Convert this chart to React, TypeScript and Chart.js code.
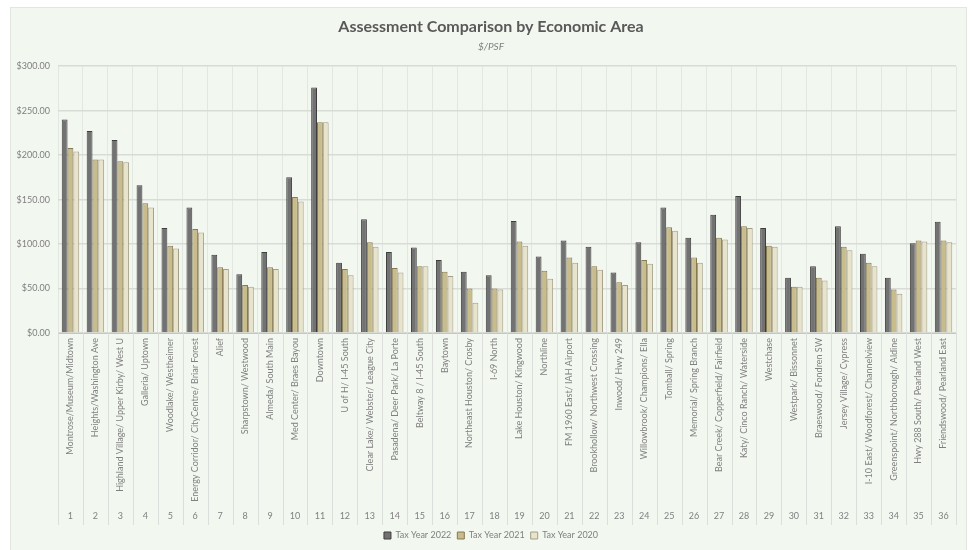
import React, { useEffect, useRef } from "react";
import { Chart, registerables } from "chart.js";

Chart.register(...registerables);

const categories = [
  "Montrose/Museum/Midtown",
  "Heights/Washington Ave",
  "Highland Village/ Upper Kirby/ West U",
  "Galleria/ Uptown",
  "Woodlake/ Westheimer",
  "Energy Corridor/ CityCentre/ Briar Forest",
  "Alief",
  "Sharpstown/ Westwood",
  "Almeda/ South Main",
  "Med Center/ Braes Bayou",
  "Downtown",
  "U of H/ I-45 South",
  "Clear Lake/ Webster/ League City",
  "Pasadena/ Deer Park/ La Porte",
  "Beltway 8 / I-45 South",
  "Baytown",
  "Northeast Houston/ Crosby",
  "I-69 North",
  "Lake Houston/ Kingwood",
  "Northline",
  "FM 1960 East/ IAH Airport",
  "Brookhollow/ Northwest Crossing",
  "Inwood/ Hwy 249",
  "Willowbrook/ Champions/ Ella",
  "Tomball/ Spring",
  "Memorial/ Spring Branch",
  "Bear Creek/ Copperfield/ Fairfield",
  "Katy/ Cinco Ranch/ Waterside",
  "Westchase",
  "Westpark/ Bissonnet",
  "Braeswood/ Fondren SW",
  "Jersey Village/ Cypress",
  "I-10 East/ Woodforest/ Channelview",
  "Greenspoint/ Northborough/ Aldine",
  "Hwy 288 South/ Pearland West",
  "Friendswood/ Pearland East",
];

const areaNumbers = [
  "1", "2", "3", "4", "5", "6", "7", "8", "9", "10", "11", "12",
  "13", "14", "15", "16", "17", "18", "19", "20", "21", "22", "23", "24",
  "25", "26", "27", "28", "29", "30", "31", "32", "33", "34", "35", "36",
];

const tax2022 = [240, 227, 217, 166, 118, 141, 88, 66, 91, 175, 276, 79, 128, 91, 96, 82, 69, 65, 126, 86, 104, 97, 68, 102, 141, 107, 133, 154, 118, 62, 75, 120, 89, 62, 101, 125];
const tax2021 = [208, 195, 193, 146, 98, 117, 74, 54, 74, 153, 237, 72, 102, 73, 75, 69, 50, 50, 103, 70, 85, 75, 57, 82, 119, 85, 107, 120, 98, 52, 62, 97, 79, 49, 104, 104];
const tax2020 = [204, 195, 192, 141, 95, 113, 72, 52, 72, 148, 237, 65, 97, 68, 75, 64, 34, 49, 98, 61, 79, 71, 54, 78, 115, 79, 105, 118, 97, 52, 59, 93, 75, 44, 103, 102];

const seriesNames = ["Tax Year 2022", "Tax Year 2021", "Tax Year 2020"];

const FONT = "Lato, 'Open Sans', sans-serif";

const separatorPlugin = {
  id: "separators",
  afterDraw(chart: any) {
    const x = chart.scales.x;
    const x2 = chart.scales.x2;
    const ctx = chart.ctx;
    ctx.save();
    ctx.strokeStyle = "#dcdedb";
    ctx.lineWidth = 1;
    for (let i = 0; i <= categories.length; i++) {
      const px = Math.round(x.getPixelForValue(i - 0.5)) + 0.5;
      ctx.beginPath();
      ctx.moveTo(px, chart.chartArea.bottom);
      ctx.lineTo(px, x2.bottom);
      ctx.stroke();
    }
    ctx.restore();
  },
};

export default function App() {
  const ref = useRef<HTMLCanvasElement>(null);

  useEffect(() => {
    if (!ref.current) return;
    const chart = new Chart(ref.current, {
      type: "bar",
      data: {
        labels: categories,
        datasets: [
          {
            label: seriesNames[0],
            data: tax2022,
            backgroundColor: "#727272",
            borderColor: "#3e3e3e",
            borderWidth: 1,
          },
          {
            label: seriesNames[1],
            data: tax2021,
            backgroundColor: "#c8bb8c",
            borderColor: "#857a52",
            borderWidth: 1,
          },
          {
            label: seriesNames[2],
            data: tax2020,
            backgroundColor: "#e8e3cb",
            borderColor: "#a39e88",
            borderWidth: 1,
          },
        ],
      },
      options: {
        animation: false,
        responsive: false,
        maintainAspectRatio: false,
        datasets: {
          bar: { categoryPercentage: 0.7, barPercentage: 1.0 },
        },
        layout: { padding: { left: 10, right: 0, top: 0, bottom: 0 } },
        plugins: {
          title: {
            display: true,
            text: "Assessment Comparison by Economic Area",
            color: "#595959",
            font: { family: FONT, size: 16, weight: "bold" },
            padding: { top: 17, bottom: 2 },
          },
          subtitle: {
            display: true,
            text: "$/PSF",
            color: "#808080",
            font: { family: FONT, size: 10, style: "italic" },
            padding: { top: 3, bottom: 13 },
          },
          legend: {
            position: "bottom",
            labels: {
              color: "#7f7f7f",
              font: { family: FONT, size: 9 },
              boxWidth: 7,
              boxHeight: 7,
              padding: 6,
            },
          },
          tooltip: { enabled: false },
        },
        scales: {
          x: {
            type: "category",
            position: "bottom",
            offset: true,
            grid: {
              display: true,
              offset: true,
              color: "#e3e7e1",
              lineWidth: 1,
              drawTicks: false,
            },
            border: { display: true, color: "#c4c6c2", width: 1 },
            ticks: {
              color: "#808080",
              font: { family: FONT, size: 9 },
              minRotation: 90,
              maxRotation: 90,
              autoSkip: false,
              padding: 5,
            },
            afterFit(scale: any) {
              scale.height = 175;
            },
          },
          x2: {
            type: "category",
            position: "bottom",
            labels: areaNumbers,
            offset: true,
            grid: { display: false, drawTicks: false },
            border: { display: false },
            ticks: {
              color: "#808080",
              font: { family: FONT, size: 9 },
              autoSkip: false,
              maxRotation: 0,
              padding: 3,
            },
            afterFit(scale: any) {
              scale.height = 17;
            },
          },
          y: {
            min: 0,
            max: 300,
            ticks: {
              stepSize: 50,
              color: "#808080",
              font: { family: FONT, size: 9 },
              padding: 8,
              callback: (v: any) => "$" + Number(v).toFixed(2),
            },
            grid: { color: "#d9dbd7", lineWidth: 1.5, drawTicks: false },
            border: { display: false },
            afterFit(scale: any) {
              scale.width = 48;
            },
          },
          yR: {
            position: "right",
            display: true,
            grid: { display: false, drawTicks: false },
            border: { display: false },
            ticks: { display: false },
            afterFit(scale: any) {
              scale.width = 16;
            },
          },
        },
      },
      plugins: [separatorPlugin],
    });
    return () => chart.destroy();
  }, []);

  return (
    <div style={{ position: "fixed", left: 0, top: 0, width: 972, height: 550, background: "#ffffff" }}>
      <div
        style={{
          position: "absolute",
          left: 10,
          top: 7,
          width: 955,
          height: 543,
          background: "#f2f7f0",
          border: "1px solid #e2e5e0",
          borderBottom: "none",
        }}
      />
      <canvas ref={ref} width={972} height={550} style={{ position: "absolute", left: 0, top: 0, width: 972, height: 550 }} />
    </div>
  );
}
